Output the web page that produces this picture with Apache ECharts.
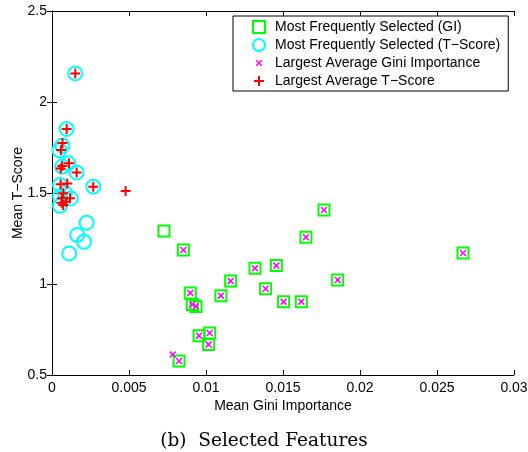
<!DOCTYPE html>
<html>
<head>
<meta charset="utf-8">
<script src="https://cdn.jsdelivr.net/npm/echarts@6/dist/echarts.min.js"></script>
<style>
  html, body { margin: 0; padding: 0; background: #fff; }
  #chart { width: 528px; height: 452px; }
</style>
</head>
<body>
<div id="chart"></div>
<script>
// [mean gini importance, mean t-score]
const selectedGI = [
  [0.00727, 1.291], [0.00853, 1.187], [0.01766, 1.407], [0.01649, 1.257],
  [0.01318, 1.086], [0.01457, 1.101], [0.0116, 1.016], [0.01855, 1.022],
  [0.01387, 0.974], [0.01097, 0.936], [0.01504, 0.903], [0.01619, 0.903],
  [0.00898, 0.951], [0.00911, 0.888], [0.00935, 0.877], [0.00955, 0.716],
  [0.01024, 0.731], [0.01017, 0.667], [0.00825, 0.577], [0.02669, 1.170]
];
const selectedTS = [
  [0.00151, 2.157], [0.00095, 1.852], [0.00068, 1.760], [0.00048, 1.735],
  [0.00067, 1.645], [0.00106, 1.663], [0.0016, 1.613], [0.00268, 1.535],
  [0.00052, 1.544], [0.00084, 1.500], [0.00122, 1.470], [0.00052, 1.430],
  [0.00052, 1.480], [0.00225, 1.337], [0.00164, 1.269], [0.00208, 1.232],
  [0.00112, 1.168]
];
const largestGI = [
  [0.00853, 1.187], [0.01766, 1.407], [0.01649, 1.257], [0.01318, 1.086],
  [0.01457, 1.101], [0.0116, 1.016], [0.01855, 1.022], [0.01387, 0.974],
  [0.01097, 0.936], [0.01504, 0.903], [0.01619, 0.903], [0.00898, 0.951],
  [0.00911, 0.888], [0.00935, 0.877], [0.00955, 0.716], [0.01024, 0.731],
  [0.01017, 0.667], [0.00825, 0.577], [0.02669, 1.170], [0.00784, 0.612]
];
const largestTS = [
  [0.00151, 2.157], [0.00095, 1.852], [0.00068, 1.775], [0.00058, 1.736],
  [0.00067, 1.648], [0.00056, 1.635], [0.0011, 1.663], [0.0016, 1.613],
  [0.00268, 1.535], [0.00478, 1.511], [0.00056, 1.548], [0.00099, 1.552],
  [0.00073, 1.498], [0.00117, 1.471], [0.00063, 1.471], [0.00063, 1.447],
  [0.00091, 1.452], [0.00073, 1.434]
];
const names = [
  'Most Frequently Selected (GI)',
  'Most Frequently Selected (T\u2212Score)',
  'Largest Average Gini Importance',
  'Largest Average T\u2212Score'
];

const font = 'Liberation Sans, Arial, sans-serif';
const plusPath = 'path://M4,0H6V4H10V6H6V10H4V6H0V4H4Z';
const crossPath = 'path://M0,1.5L1.5,0L5,3.5L8.5,0L10,1.5L6.5,5L10,8.5L8.5,10L5,6.5L1.5,10L0,8.5L3.5,5Z';
// same shapes with empty margin so the legend draws them smaller
const plusIcon = 'path://M-1,-1M11,11M4,0H6V4H10V6H6V10H4V6H0V4H4Z';
const crossIcon = 'path://M-4,-4M14,14M0,1.5L1.5,0L5,3.5L8.5,0L10,1.5L6.5,5L10,8.5L8.5,10L5,6.5L1.5,10L0,8.5L3.5,5Z';

const axisLine = { show: true, lineStyle: { color: '#000', width: 1 } };
const axisTick = { show: true, inside: true, length: 5, lineStyle: { color: '#000' } };
const label = { color: '#000', fontFamily: font, fontSize: 14 };

const chart = echarts.init(document.getElementById('chart'));
chart.setOption({
  animation: false,
  backgroundColor: '#fff',
  title: {
    text: '(b)  Selected Features',
    left: 'center',
    top: 427,
    textStyle: { fontFamily: 'DejaVu Serif, serif', fontSize: 18.5, fontWeight: 'normal', color: '#000' }
  },
  grid: { left: 52, right: 14, top: 11, bottom: 77, outerBoundsMode: 'none', containLabel: false },
  legend: {
    orient: 'vertical',
    left: 233,
    top: 16,
    width: 276,
    padding: [4, 8, 3, 19],
    itemGap: 4,
    itemWidth: 12,
    itemHeight: 12,
    borderColor: '#000',
    borderWidth: 1,
    backgroundColor: '#fff',
    textStyle: { fontFamily: font, fontSize: 14, color: '#000', padding: [0, 0, 0, 5] },
    data: [
      { name: names[0], icon: 'rect', itemStyle: { color: 'transparent', borderColor: '#00ff00', borderWidth: 2 } },
      { name: names[1], icon: 'circle', itemStyle: { color: 'transparent', borderColor: '#00ffff', borderWidth: 2 } },
      { name: names[2], icon: crossIcon, itemStyle: { color: '#ff00ff', borderWidth: 0 } },
      { name: names[3], icon: plusIcon, itemStyle: { color: '#ff0000', borderWidth: 0 } }
    ]
  },
  xAxis: [{
    type: 'value', min: 0, max: 0.03, interval: 0.005,
    name: 'Mean Gini Importance', nameLocation: 'middle', nameGap: 24,
    nameMoveOverlap: false,
    nameTextStyle: label,
    axisLine: axisLine, axisTick: axisTick,
    axisLabel: Object.assign({ margin: 6 }, label),
    splitLine: { show: false }
  }, {
    type: 'value', position: 'top', min: 0, max: 0.03, interval: 0.005,
    axisLine: axisLine, axisTick: axisTick,
    axisLabel: { show: false }, splitLine: { show: false }
  }],
  yAxis: [{
    type: 'value', min: 0.5, max: 2.5, interval: 0.5,
    name: 'Mean T\u2212Score', nameLocation: 'middle', nameGap: 27,
    nameMoveOverlap: false,
    nameTextStyle: label,
    axisLine: axisLine, axisTick: axisTick,
    axisLabel: Object.assign({ margin: 5 }, label),
    splitLine: { show: false }
  }, {
    type: 'value', position: 'right', min: 0.5, max: 2.5, interval: 0.5,
    axisLine: axisLine, axisTick: axisTick,
    axisLabel: { show: false }, splitLine: { show: false }
  }],
  series: [{
    name: names[0], type: 'scatter', data: selectedGI,
    symbol: 'rect', symbolSize: 11,
    itemStyle: { color: 'transparent', borderColor: '#00ff00', borderWidth: 2, opacity: 1 }
  }, {
    name: names[1], type: 'scatter', data: selectedTS,
    symbol: 'circle', symbolSize: 14,
    itemStyle: { color: 'transparent', borderColor: '#00ffff', borderWidth: 2, opacity: 1 }
  }, {
    name: names[2], type: 'scatter', data: largestGI,
    symbol: crossPath, symbolSize: 7,
    itemStyle: { color: '#ff00ff', opacity: 1 }
  }, {
    name: names[3], type: 'scatter', data: largestTS,
    symbol: plusPath, symbolSize: 10,
    itemStyle: { color: '#ff0000', opacity: 1 }
  }]
});
</script>
</body>
</html>
